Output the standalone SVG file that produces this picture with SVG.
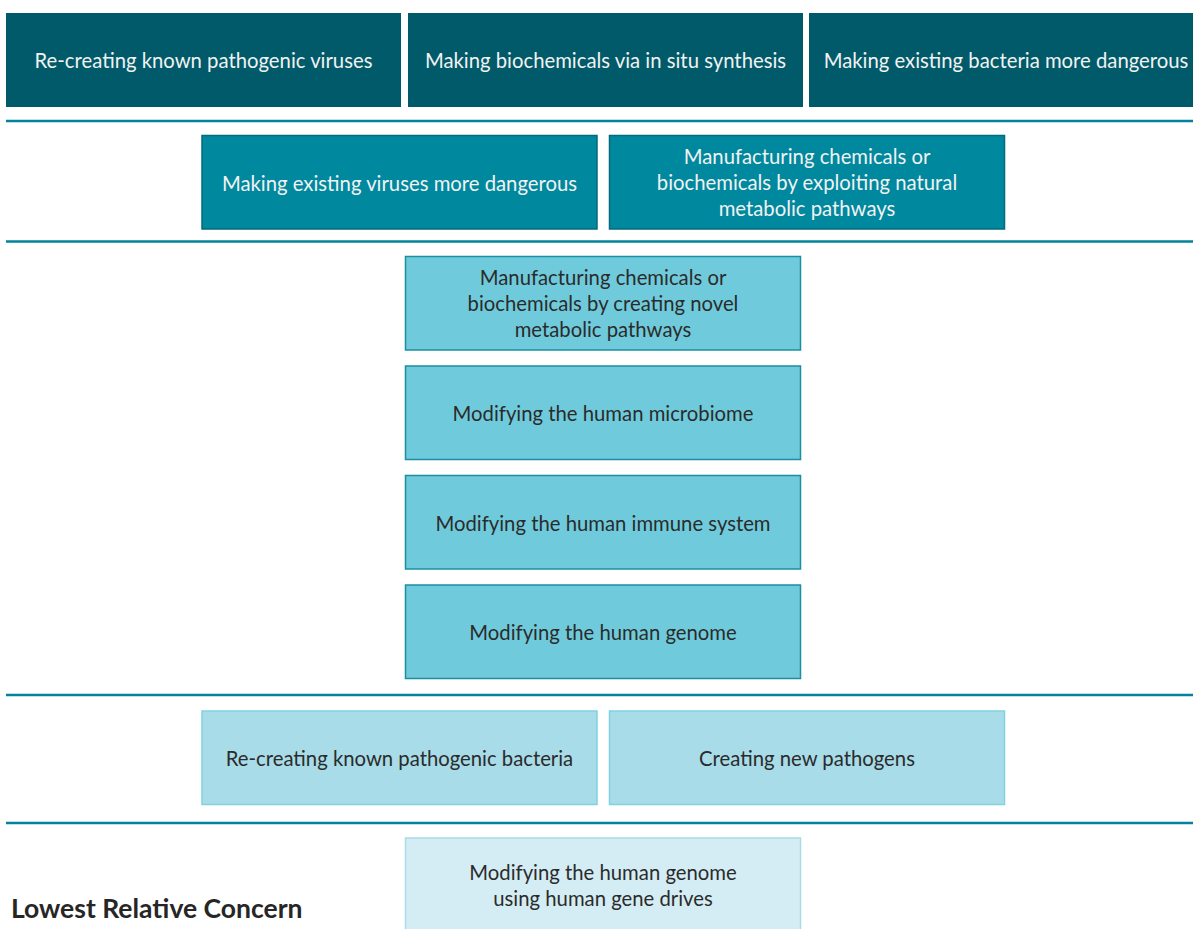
<svg xmlns="http://www.w3.org/2000/svg" width="1193" height="929" viewBox="0 0 1193 929">
<style>
text{font-family:Lato,"Open Sans","Liberation Sans",sans-serif;font-size:20.3px;text-anchor:middle;dominant-baseline:central}
.t1 rect{fill:#005a69}
.t2 rect{fill:#00889e;stroke:#006b7c;stroke-width:1.5}
.t3 rect{fill:#6fcbdc;stroke:#1b8fa1;stroke-width:1.5}
.t4 rect{fill:#a7dce8;stroke:#80d2e2;stroke-width:1.5}
.t5 rect{fill:#d4edf4;stroke:#a9dbe8;stroke-width:1.5}
.light text{fill:#f2f2f2}
.dark text{fill:#2b2b2b}
.sep{stroke:#00849b;stroke-width:2.5}
</style>
<rect width="1193" height="929" fill="#fff"/>
<g id="separators">
<line class="sep" x1="6" y1="121" x2="1193" y2="121"/>
<line class="sep" x1="6" y1="241.5" x2="1193" y2="241.5"/>
<line class="sep" x1="6" y1="695" x2="1193" y2="695"/>
<line class="sep" x1="6" y1="823" x2="1193" y2="823"/>
</g>
<g id="n1" class="t1 light"><rect x="6" y="13" width="395" height="94"/><text x="203.5" y="59.5">Re-creating known pathogenic viruses</text></g>
<g id="n2" class="t1 light"><rect x="408" y="13" width="395" height="94"/><text x="605.5" y="59.5">Making biochemicals via in situ synthesis</text></g>
<g id="n3" class="t1 light"><rect x="809" y="13" width="384" height="94"/><text x="1006" y="59.5">Making existing bacteria more dangerous</text></g>
<g id="n4" class="t2 light"><rect x="202" y="135.5" width="395" height="93.5"/><text x="399.5" y="182.5">Making existing viruses more dangerous</text></g>
<g id="n5" class="t2 light"><rect x="609.5" y="135.5" width="395" height="93.5"/><text x="807" y="155.5">Manufacturing chemicals or</text><text x="807" y="181.5">biochemicals by exploiting natural</text><text x="807" y="207.5">metabolic pathways</text></g>
<g id="n6" class="t3 dark"><rect x="405.5" y="256.5" width="395" height="93.5"/><text x="603" y="276.5">Manufacturing chemicals or</text><text x="603" y="302.5">biochemicals by creating novel</text><text x="603" y="328.5">metabolic pathways</text></g>
<g id="n7" class="t3 dark"><rect x="405.5" y="366" width="395" height="93.5"/><text x="603" y="412.5">Modifying the human microbiome</text></g>
<g id="n8" class="t3 dark"><rect x="405.5" y="475.5" width="395" height="93.5"/><text x="603" y="522.5">Modifying the human immune system</text></g>
<g id="n9" class="t3 dark"><rect x="405.5" y="585" width="395" height="93.5"/><text x="603" y="631.5">Modifying the human genome</text></g>
<g id="n10" class="t4 dark"><rect x="202" y="711" width="395" height="93.5"/><text x="399.5" y="757.5">Re-creating known pathogenic bacteria</text></g>
<g id="n11" class="t4 dark"><rect x="609.5" y="711" width="395" height="93.5"/><text x="807" y="757.5">Creating new pathogens</text></g>
<g id="n12" class="t5 dark"><rect x="405.5" y="838" width="395" height="100"/><text x="603" y="871.5">Modifying the human genome</text><text x="603" y="897.5">using human gene drives</text></g>
<g id="label"><text x="11" y="908" style="text-anchor:start;font-weight:bold;font-size:26.5px;fill:#262626">Lowest Relative Concern</text></g>
</svg>
